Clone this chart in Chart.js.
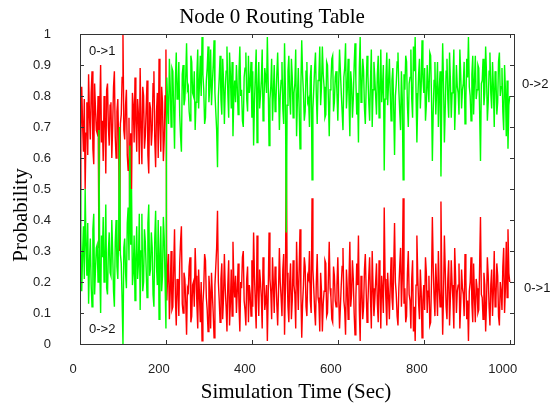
<!DOCTYPE html>
<html>
<head>
<meta charset="utf-8">
<script src="https://cdn.jsdelivr.net/npm/chart.js@4.4.1/dist/chart.umd.min.js"></script>
<style>
  html, body { margin: 0; padding: 0; background: #fff; }
  canvas { display: block; }
</style>
</head>
<body>
<canvas id="routing" width="550" height="406"></canvas>
<script>
const SAMPLE_STEP = 2;

// probability of route 0->1 (red)
const p01 = [
  0.50, 0.66, 0.83, 0.71, 0.62, 0.79, 0.50, 0.68, 0.78, 0.61, 0.87, 0.74, 0.66, 0.81, 0.88, 0.63, 0.58, 0.84, 0.76, 0.69,
  0.68, 0.80, 0.31, 0.75, 0.90, 0.65, 0.72, 0.59, 0.80, 0.73, 0.55, 0.82, 0.84, 0.70, 0.64, 0.77, 0.78, 0.60, 0.70, 0.83,
  0.88, 0.67, 0.60, 0.75, 0.79, 0.64, 0.30, 0.71, 0.74, 0.86, 1.00, 0.69, 0.66, 0.77, 0.82, 0.61, 0.56, 0.73, 0.36, 0.68,
  0.50, 0.81, 0.77, 0.65, 0.86, 0.72, 0.62, 0.79, 0.74, 0.58, 0.89, 0.70, 0.58, 0.83, 0.80, 0.63, 0.67, 0.76, 0.85, 0.61,
  0.55, 0.78, 0.76, 0.64, 0.69, 0.84, 0.88, 0.66, 0.57, 0.75, 0.81, 0.60, 0.92, 0.71, 0.62, 0.83, 0.78, 0.59, 0.66, 0.80,
  0.95, 0.14, 0.22, 0.29, 0.08, 0.17, 0.30, 0.11, 0.12, 0.24, 0.37, 0.15, 0.06, 0.21, 0.19, 0.09, 0.26, 0.33, 0.38, 0.13,
  0.10, 0.23, 0.21, 0.14, 0.03, 0.18, 0.17, 0.25, 0.28, 0.07, 0.09, 0.19, 0.20, 0.12, 0.31, 0.22, 0.13, 0.05, 0.24, 0.16,
  0.07, 0.20, 0.01, 0.13, 0.18, 0.29, 0.27, 0.15, 0.11, 0.04, 0.22, 0.17, 0.05, 0.23, 0.16, 0.10, 0.02, 0.19, 0.25, 0.31,
  0.43, 0.20, 0.14, 0.07, 0.21, 0.26, 0.08, 0.15, 0.29, 0.18, 0.12, 0.04, 0.19, 0.27, 0.06, 0.13, 0.24, 0.09, 0.33, 0.20,
  0.15, 0.22, 0.10, 0.17, 0.26, 0.12, 0.04, 0.20, 0.18, 0.28, 0.30, 0.14, 0.11, 0.06, 0.21, 0.25, 0.07, 0.19, 0.16, 0.09,
  0.27, 0.12, 0.36, 0.22, 0.13, 0.05, 0.35, 0.18, 0.09, 0.24, 0.20, 0.15, 0.05, 0.28, 0.23, 0.11, 0.14, 0.19, 0.01, 0.16,
  0.36, 0.21, 0.17, 0.08, 0.28, 0.19, 0.10, 0.25, 0.22, 0.13, 0.06, 0.17, 0.31, 0.20, 0.15, 0.09, 0.24, 0.29, 0.03, 0.18,
  0.64, 0.23, 0.12, 0.07, 0.20, 0.26, 0.08, 0.14, 0.27, 0.19, 0.16, 0.05, 0.33, 0.21, 0.11, 0.24, 0.37, 0.17, 0.02, 0.13,
  0.19, 0.28, 0.25, 0.12, 0.09, 0.22, 0.21, 0.30, 0.14, 0.10, 0.47, 0.24, 0.18, 0.11, 0.06, 0.20, 0.29, 0.15, 0.13, 0.04,
  0.23, 0.17, 0.04, 0.13, 0.17, 0.27, 0.26, 0.09, 0.10, 0.21, 0.33, 0.18, 0.15, 0.08, 0.07, 0.25, 0.22, 0.14, 0.12, 0.19,
  0.28, 0.16, 0.05, 0.12, 0.19, 0.25, 0.31, 0.14, 0.11, 0.03, 0.24, 0.18, 0.08, 0.21, 0.33, 0.12, 0.16, 0.27, 0.21, 0.10,
  0.03, 0.15, 0.26, 0.19, 0.35, 0.11, 0.01, 0.22, 0.18, 0.08, 0.12, 0.24, 0.29, 0.17, 0.07, 0.13, 0.22, 0.28, 0.15, 0.05,
  0.30, 0.18, 0.09, 0.14, 0.20, 0.26, 0.13, 0.07, 0.27, 0.19, 0.05, 0.22, 0.17, 0.10, 0.44, 0.21, 0.14, 0.06, 0.23, 0.16,
  0.08, 0.19, 0.28, 0.15, 0.11, 0.24, 0.39, 0.20, 0.16, 0.09, 0.06, 0.18, 0.25, 0.31, 0.12, 0.21, 0.47, 0.13, 0.18, 0.07,
  0.09, 0.23, 0.30, 0.16, 0.14, 0.05, 0.21, 0.27, 0.04, 0.12, 0.01, 0.19, 0.35, 0.22, 0.13, 0.08, 0.24, 0.17, 0.02, 0.14,
  0.19, 0.11, 0.28, 0.23, 0.10, 0.17, 0.22, 0.06, 0.07, 0.20, 0.41, 0.25, 0.15, 0.09, 0.26, 0.18, 0.09, 0.30, 0.18, 0.12,
  0.46, 0.20, 0.03, 0.16, 0.35, 0.24, 0.12, 0.08, 0.21, 0.27, 0.06, 0.15, 0.27, 0.19, 0.14, 0.05, 0.31, 0.22, 0.10, 0.17,
  0.19, 0.26, 0.05, 0.13, 0.24, 0.18, 0.16, 0.09, 0.29, 0.21, 0.08, 0.14, 0.01, 0.17, 0.20, 0.28, 0.13, 0.07, 0.26, 0.15,
  0.07, 0.21, 0.18, 0.10, 0.11, 0.25, 0.41, 0.16, 0.15, 0.08, 0.23, 0.19, 0.04, 0.13, 0.28, 0.22, 0.12, 0.06, 0.19, 0.24,
  0.09, 0.17, 0.30, 0.12, 0.14, 0.26, 0.22, 0.09, 0.06, 0.20, 0.17, 0.11, 0.25, 0.31, 0.10, 0.18, 0.33, 0.15, 0.37, 0.23,
  0.20
];

// probability of route 0->2 (green)
const p02 = [
  0.50, 0.34, 0.17, 0.29, 0.38, 0.21, 0.50, 0.32, 0.22, 0.39, 0.13, 0.26, 0.34, 0.19, 0.12, 0.37, 0.42, 0.16, 0.24, 0.31,
  0.32, 0.20, 0.69, 0.25, 0.10, 0.35, 0.28, 0.41, 0.20, 0.27, 0.45, 0.18, 0.16, 0.30, 0.36, 0.23, 0.22, 0.40, 0.30, 0.17,
  0.12, 0.33, 0.40, 0.25, 0.21, 0.36, 0.70, 0.29, 0.26, 0.14, 0.00, 0.31, 0.34, 0.23, 0.18, 0.39, 0.44, 0.27, 0.64, 0.32,
  0.50, 0.19, 0.23, 0.35, 0.14, 0.28, 0.38, 0.21, 0.26, 0.42, 0.11, 0.30, 0.42, 0.17, 0.20, 0.37, 0.33, 0.24, 0.15, 0.39,
  0.45, 0.22, 0.24, 0.36, 0.31, 0.16, 0.12, 0.34, 0.43, 0.25, 0.19, 0.40, 0.08, 0.29, 0.38, 0.17, 0.22, 0.41, 0.34, 0.20,
  0.05, 0.86, 0.78, 0.71, 0.92, 0.83, 0.70, 0.89, 0.88, 0.76, 0.63, 0.85, 0.94, 0.79, 0.81, 0.91, 0.74, 0.67, 0.62, 0.87,
  0.90, 0.77, 0.79, 0.86, 0.97, 0.82, 0.83, 0.75, 0.72, 0.93, 0.91, 0.81, 0.80, 0.88, 0.69, 0.78, 0.87, 0.95, 0.76, 0.84,
  0.93, 0.80, 0.99, 0.87, 0.82, 0.71, 0.73, 0.85, 0.89, 0.96, 0.78, 0.83, 0.95, 0.77, 0.84, 0.90, 0.98, 0.81, 0.75, 0.69,
  0.57, 0.80, 0.86, 0.93, 0.79, 0.74, 0.92, 0.85, 0.71, 0.82, 0.88, 0.96, 0.81, 0.73, 0.94, 0.87, 0.76, 0.91, 0.67, 0.80,
  0.85, 0.78, 0.90, 0.83, 0.74, 0.88, 0.96, 0.80, 0.82, 0.72, 0.70, 0.86, 0.89, 0.94, 0.79, 0.75, 0.93, 0.81, 0.84, 0.91,
  0.73, 0.88, 0.64, 0.78, 0.87, 0.95, 0.65, 0.82, 0.91, 0.76, 0.80, 0.85, 0.95, 0.72, 0.77, 0.89, 0.86, 0.81, 0.99, 0.84,
  0.64, 0.79, 0.83, 0.92, 0.72, 0.81, 0.90, 0.75, 0.78, 0.87, 0.94, 0.83, 0.69, 0.80, 0.85, 0.91, 0.76, 0.71, 0.97, 0.82,
  0.36, 0.77, 0.88, 0.93, 0.80, 0.74, 0.92, 0.86, 0.73, 0.81, 0.84, 0.95, 0.67, 0.79, 0.89, 0.76, 0.63, 0.83, 0.98, 0.87,
  0.81, 0.72, 0.75, 0.88, 0.91, 0.78, 0.79, 0.70, 0.86, 0.90, 0.53, 0.76, 0.82, 0.89, 0.94, 0.80, 0.71, 0.85, 0.87, 0.96,
  0.77, 0.83, 0.96, 0.87, 0.83, 0.73, 0.74, 0.91, 0.90, 0.79, 0.67, 0.82, 0.85, 0.92, 0.93, 0.75, 0.78, 0.86, 0.88, 0.81,
  0.72, 0.84, 0.95, 0.88, 0.81, 0.75, 0.69, 0.86, 0.89, 0.97, 0.76, 0.82, 0.92, 0.79, 0.67, 0.88, 0.84, 0.73, 0.79, 0.90,
  0.97, 0.85, 0.74, 0.81, 0.65, 0.89, 0.99, 0.78, 0.82, 0.92, 0.88, 0.76, 0.71, 0.83, 0.93, 0.87, 0.78, 0.72, 0.85, 0.95,
  0.70, 0.82, 0.91, 0.86, 0.80, 0.74, 0.87, 0.93, 0.73, 0.81, 0.95, 0.78, 0.83, 0.90, 0.56, 0.79, 0.86, 0.94, 0.77, 0.84,
  0.92, 0.81, 0.72, 0.85, 0.89, 0.76, 0.61, 0.80, 0.84, 0.91, 0.94, 0.82, 0.75, 0.69, 0.88, 0.79, 0.53, 0.87, 0.82, 0.93,
  0.91, 0.77, 0.70, 0.84, 0.86, 0.95, 0.79, 0.73, 0.96, 0.88, 0.99, 0.81, 0.65, 0.78, 0.87, 0.92, 0.76, 0.83, 0.98, 0.86,
  0.81, 0.89, 0.72, 0.77, 0.90, 0.83, 0.78, 0.94, 0.93, 0.80, 0.59, 0.75, 0.85, 0.91, 0.74, 0.82, 0.91, 0.70, 0.82, 0.88,
  0.54, 0.80, 0.97, 0.84, 0.65, 0.76, 0.88, 0.92, 0.79, 0.73, 0.94, 0.85, 0.73, 0.81, 0.86, 0.95, 0.69, 0.78, 0.90, 0.83,
  0.81, 0.74, 0.95, 0.87, 0.76, 0.82, 0.84, 0.91, 0.71, 0.79, 0.92, 0.86, 0.99, 0.83, 0.80, 0.72, 0.87, 0.93, 0.74, 0.85,
  0.93, 0.79, 0.82, 0.90, 0.89, 0.75, 0.59, 0.84, 0.85, 0.92, 0.77, 0.81, 0.96, 0.87, 0.72, 0.78, 0.88, 0.94, 0.81, 0.76,
  0.91, 0.83, 0.70, 0.88, 0.86, 0.74, 0.78, 0.91, 0.94, 0.80, 0.83, 0.89, 0.75, 0.69, 0.90, 0.82, 0.67, 0.85, 0.63, 0.77,
  0.80
];

const xTicks = [0, 200, 400, 600, 800, 1000];
const yTicks = [0, 0.1, 0.2, 0.3, 0.4, 0.5, 0.6, 0.7, 0.8, 0.9, 1];

const times = p01.map((_, i) => i * SAMPLE_STEP);
const toPoints = arr => arr.map((v, i) => ({ x: times[i], y: v }));

const tickFont = { family: '"Liberation Sans", Arial, sans-serif', size: 13 };

// frame with inward ticks on all sides, axis titles and the 0->1 / 0->2 tags
const decor = {
  id: 'decor',
  afterDraw(chart) {
    const { ctx, chartArea: a, scales: { x, y } } = chart;
    ctx.save();
    ctx.strokeStyle = '#333';
    ctx.lineWidth = 1;
    ctx.strokeRect(a.left + 0.5, a.top + 0.5, a.right - a.left, a.bottom - a.top);
    ctx.beginPath();
    xTicks.forEach(v => {
      const px = Math.round(x.getPixelForValue(v)) + 0.5;
      ctx.moveTo(px, a.bottom); ctx.lineTo(px, a.bottom - 4);
      ctx.moveTo(px, a.top); ctx.lineTo(px, a.top + 4);
    });
    yTicks.forEach(v => {
      const py = Math.round(y.getPixelForValue(v)) + 0.5;
      ctx.moveTo(a.left, py); ctx.lineTo(a.left + 4, py);
      ctx.moveTo(a.right, py); ctx.lineTo(a.right - 4, py);
    });
    ctx.stroke();

    ctx.fillStyle = '#000';
    ctx.font = '21px "Liberation Serif", "Times New Roman", serif';
    ctx.textAlign = 'center';
    ctx.textBaseline = 'alphabetic';
    ctx.fillText('Node 0 Routing Table', 272, 23);
    ctx.fillText('Simulation Time (Sec)', 296, 398);
    ctx.save();
    ctx.translate(27, 215);
    ctx.rotate(-Math.PI / 2);
    ctx.fillText('Probability', 0, 0);
    ctx.restore();

    ctx.font = '13px "Liberation Sans", Arial, sans-serif';
    ctx.fillStyle = '#111';
    ctx.textAlign = 'left';
    ctx.textBaseline = 'middle';
    ctx.fillText('0->1', 89, 51);
    ctx.fillText('0->2', 89, 329);
    ctx.fillText('0->2', 522, 84);
    ctx.fillText('0->1', 524, 288);
    ctx.restore();
  }
};

new Chart(document.getElementById('routing'), {
  type: 'line',
  data: {
    datasets: [
      {
        label: '0->2',
        data: toPoints(p02),
        borderColor: '#00ff00',
        borderWidth: 1.4,
        pointRadius: 0,
        tension: 0,
        order: 1
      },
      {
        label: '0->1',
        data: toPoints(p01),
        borderColor: '#ff0000',
        borderWidth: 1.4,
        pointRadius: 0,
        tension: 0,
        order: 2
      }
    ]
  },
  options: {
    responsive: false,
    animation: false,
    layout: { padding: { left: 0, right: 36, top: 34, bottom: 0 } },
    plugins: { legend: { display: false }, tooltip: { enabled: false } },
    scales: {
      x: {
        type: 'linear',
        min: 0,
        max: 1010,
        afterBuildTicks: s => { s.ticks = xTicks.map(v => ({ value: v })); },
        afterFit: s => { s.height = 62; },
        grid: { display: false },
        border: { display: false },
        ticks: { font: tickFont, color: '#222', padding: 10, labelOffset: -7, maxRotation: 0, callback: v => String(v) }
      },
      y: {
        min: 0,
        max: 1,
        afterBuildTicks: s => { s.ticks = yTicks.map(v => ({ value: v })); },
        afterFit: s => { s.width = 80; },
        grid: { display: false },
        border: { display: false },
        ticks: { font: tickFont, color: '#222', padding: 21, callback: v => String(v) }
      }
    }
  },
  plugins: [decor]
});
</script>
</body>
</html>
